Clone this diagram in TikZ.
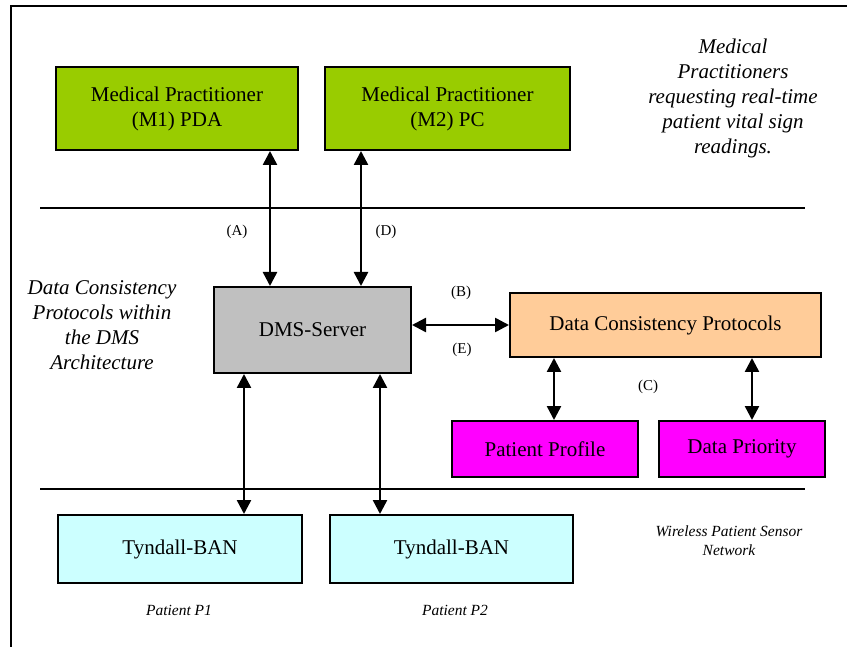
\documentclass[tikz,border=0pt]{standalone}
\usepackage{fontspec}
\setmainfont{Liberation Serif}
\usetikzlibrary{arrows.meta}
\definecolor{mpgreen}{HTML}{99CC00}
\definecolor{srvgray}{HTML}{C0C0C0}
\definecolor{dcporange}{HTML}{FFCC99}
\definecolor{ppmagenta}{HTML}{FF00FF}
\definecolor{bancyan}{HTML}{CCFFFF}
\begin{document}
\begin{tikzpicture}[
    x=1pt, y=-1pt,
  box/.style={draw, line width=2pt, align=center, inner sep=0pt,
              font=\fontsize{21}{25}\selectfont},
  biarr/.style={line width=2.5pt, {Triangle[length=14pt,width=14pt]}-{Triangle[length=14pt,width=14pt]}},
  sep/.style={line width=2pt},
  lab/.style={font=\fontsize{15}{18}\selectfont},
  note/.style={align=center, font=\fontsize{21}{25}\selectfont\itshape},
  smallnote/.style={align=center, font=\fontsize{15.5}{19}\selectfont\itshape}
]
\useasboundingbox (0,0) rectangle (847,647);
\draw[line width=2pt] (11,647) -- (11,6) -- (847,6);

% --- practitioners ---
\node[box, fill=mpgreen, minimum width=242pt, minimum height=83pt] (m1) at (177,108.5)
  {Medical Practitioner\\(M1) PDA};
\node[box, fill=mpgreen, minimum width=245pt, minimum height=83pt] (m2) at (447.5,108.5)
  {Medical Practitioner\\(M2) PC};
\node[note] (toptxt) at (733,98)
  {Medical\\Practitioners\\requesting real-time\\patient vital sign\\readings.};

\draw[sep] (40,208) -- (805,208);

% --- server and protocols ---
\node[box, fill=srvgray, minimum width=197pt, minimum height=86pt] (dms) at (312.5,330) {DMS-Server};
\node[box, fill=dcporange, minimum width=311pt, minimum height=64pt] (dcp) at (665.5,325)
  {Data Consistency Protocols};
\node[box, fill=ppmagenta, minimum width=186pt, minimum height=56pt] (pp) at (545,449) {Patient Profile};
\node[box, fill=ppmagenta, minimum width=166pt, minimum height=56pt] (dp) at (742,449) {Data Priority};
\node[note] (lefttxt) at (102,325)
  {Data Consistency\\Protocols within\\the DMS\\Architecture};

\draw[biarr] ([xshift=-42.5pt]dms.north |- m1.south) -- ([xshift=-42.5pt]dms.north);
\draw[biarr] ([xshift=48.5pt]dms.north |- m2.south) -- ([xshift=48.5pt]dms.north);
\draw[biarr] (dcp.west -| dms.east) -- (dcp.west);
\draw[biarr] ([xshift=9pt]pp.north |- dcp.south) -- ([xshift=9pt]pp.north);
\draw[biarr] ([xshift=10pt]dp.north |- dcp.south) -- ([xshift=10pt]dp.north);

\node[lab] (la) at (237,232) {(A)};
\node[lab] (ld) at (386,232) {(D)};
\node[lab] (lb) at (461,293) {(B)};
\node[lab] (le) at (462,350) {(E)};
\node[lab] (lc) at (648,387) {(C)};

\draw[sep] (40,489) -- (805,489);

% --- sensor network ---
\node[box, fill=bancyan, minimum width=244pt, minimum height=68pt] (tb1) at (180,549) {Tyndall-BAN};
\node[box, fill=bancyan, minimum width=243pt, minimum height=68pt] (tb2) at (451.5,549) {Tyndall-BAN};

\draw[biarr] ([xshift=-68.5pt]dms.south) -- ([xshift=-68.5pt]dms.south |- tb1.north);
\draw[biarr] ([xshift=67.5pt]dms.south) -- ([xshift=67.5pt]dms.south |- tb2.north);

\node[smallnote] (p1) at (179,610) {Patient P1};
\node[smallnote] (p2) at (455,610) {Patient P2};
\node[smallnote] (wsn) at (729,541) {Wireless Patient Sensor\\Network};
\end{tikzpicture}
\end{document}
